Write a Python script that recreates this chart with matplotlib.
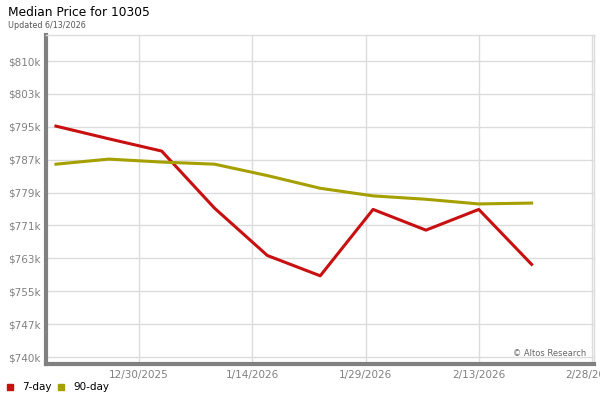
import matplotlib
matplotlib.use('Agg')
import matplotlib.pyplot as plt
from matplotlib.patches import Rectangle
import datetime as dt

# 데이터
dates = ['2025-12-19', '2025-12-26', '2026-01-02', '2026-01-09', '2026-01-16',
         '2026-01-23', '2026-01-30', '2026-02-06', '2026-02-13', '2026-02-20']
price_7day = [794.6, 791.6, 788.7, 775.2, 764.0, 759.2, 774.9, 770.0, 774.9, 761.9]
price_90day = [785.6, 786.8, 786.1, 785.6, 782.9, 779.9, 778.1, 777.3, 776.2, 776.4]
y_labels = ['$740k', '$747k', '$755k', '$763k', '$771k', '$779k', '$787k', '$795k', '$803k', '$810k']
x_labels = ['12/30/2025', '1/14/2026', '1/29/2026', '2/13/2026', '2/28/2026']

x = [dt.datetime.strptime(d, '%Y-%m-%d') for d in dates]
x_ticks = [dt.datetime.strptime(s, '%m/%d/%Y') for s in x_labels]

red = '#c81010'
olive = '#a5a000'
grey = '#808080'
grid_c = '#dcdcdc'

fig = plt.figure(figsize=(6, 4), dpi=100)
ax = fig.add_axes([46 / 600, 1 - 364 / 400, 548 / 600, 329 / 400])

ax.plot(x, price_7day, color=red, lw=2.2, zorder=3)
ax.plot(x, price_90day, color=olive, lw=2.2, zorder=3)

# y축 눈금 (균등 간격)
y_lo, y_hi = 740.0, 810.0
step = (y_hi - y_lo) / (len(y_labels) - 1)
y_ticks = [y_lo + i * step for i in range(len(y_labels))]
ax.set_yticks(y_ticks)
ax.set_yticklabels(y_labels)
ax.set_ylim(y_lo - 7 * 70 / 296, y_hi + 26 * 70 / 296)

ax.set_xticks(x_ticks)
ax.set_xticklabels(x_labels)
x0 = x_ticks[0] - dt.timedelta(days=12.32)
x1 = x_ticks[-1] + dt.timedelta(days=0.26)
ax.set_xlim(x0, x1)

ax.grid(True, color=grid_c, lw=1)
ax.set_axisbelow(True)
ax.tick_params(length=0, labelsize=7.5, colors=grey, pad=4)

for s in ['top', 'right']:
    ax.spines[s].set_color(grid_c)
    ax.spines[s].set_linewidth(1)
for s in ['left', 'bottom']:
    ax.spines[s].set_color(grey)
    ax.spines[s].set_linewidth(3)

ax.text(0.985, 0.018, '\u00a9 Altos Research', transform=ax.transAxes,
        ha='right', va='bottom', fontsize=6, color='#666666')

fig.text(8 / 600, 1 - 13 / 400, 'Median Price for 10305', fontsize=8.8, va='center', ha='left')
fig.text(8 / 600, 1 - 25 / 400, 'Updated 6/13/2026', fontsize=5.8, va='center', ha='left', color='#555555')

# 범례
fig.patches.append(Rectangle((7 / 600, 1 - 390 / 400), 6 / 600, 6 / 400,
                             transform=fig.transFigure, color=red))
fig.text(22 / 600, 1 - 387 / 400, '7-day', fontsize=7.5, va='center')
fig.patches.append(Rectangle((58 / 600, 1 - 390 / 400), 6 / 600, 6 / 400,
                             transform=fig.transFigure, color=olive))
fig.text(73 / 600, 1 - 387 / 400, '90-day', fontsize=7.5, va='center')

fig.savefig('out.png', dpi=100)
